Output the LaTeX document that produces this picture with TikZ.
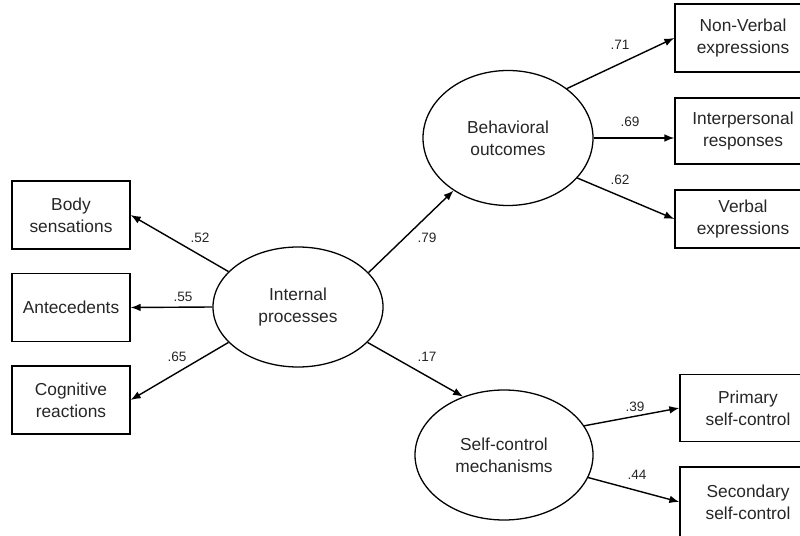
\documentclass[tikz,border=0pt]{standalone}
\usepackage{fontspec}
\setmainfont{Liberation Sans}
\usetikzlibrary{arrows.meta,shapes.geometric}
\tikzset{
	itembox/.style={draw, line width=1.1pt, minimum width=3.54cm, minimum height=2.04cm, inner sep=0pt, align=center, text=black!85, font=\fontsize{14.8}{18.8}\selectfont},
	rightbox/.style={itembox, minimum width=4.08cm},
	factor/.style={draw, ellipse, line width=1.1pt, inner sep=0pt, align=center, text=black!85, font=\fontsize{14.8}{18.8}\selectfont},
	load/.style={-{Latex[length=3mm,width=2.3mm]}, line width=1.2pt},
	coef/.style={font=\fontsize{11.6}{13}\selectfont, text=black!85, inner sep=0pt}
}

\begin{document}
\begin{tikzpicture}
		%%%%% START %%%%%
		\useasboundingbox (0, 0) rectangle (24, 16.05);
		
		\node[itembox] (body) at (2.13, 9.6) {Body\\sensations};
		\node[itembox] (ante) at (2.13, 6.825) {Antecedents};
		\node[itembox] (cog) at (2.13, 4.05) {Cognitive\\reactions};
		
		\node[factor, minimum width=5.1cm, minimum height=3.6cm] (ip) at (8.94, 6.84) {Internal\\processes};
		\node[factor, minimum width=5.1cm, minimum height=4.05cm] (bo) at (15.24, 11.91) {Behavioral\\outcomes};
		\node[factor, minimum width=5.34cm, minimum height=3.9cm] (sc) at (15.12, 2.4) {Self-control\\mechanisms};
		
		\node[rightbox] (nonverbal) at (22.29, 14.91) {Non-Verbal\\expressions};
		\node[rightbox, minimum height=1.98cm] (inter) at (22.29, 12.12) {Interpersonal\\responses};
		\node[rightbox, minimum height=1.74cm] (verbal) at (22.29, 9.48) {Verbal\\expressions};
		\node[rightbox, minimum height=2.01cm] (primary) at (22.44, 3.81) {Primary\\self-control};
		\node[rightbox, minimum height=2.1cm] (secondary) at (22.44, 0.99) {Secondary\\self-control};
		
		\draw[load] (ip.153) -- (body.east);
		\draw[load] (ip.west) -- (ante.east);
		\draw[load] (ip.207) -- (cog.east);
		\draw[load] (ip.26) -- (bo.224);
		\draw[load] (ip.333) -- (sc.125);
		
		\draw[load] (bo.40) -- (nonverbal.west);
		\draw[load] (bo.east) -- (bo.east -| inter.west);
		\draw[load] (bo.-30) -- (verbal.west);
		\draw[load] (sc.20) -- (primary.west);
		\draw[load] (sc.-15) -- (secondary.west);
		
		\node[coef] (c52) at (6.0, 8.91) {.52};
		\node[coef] (c55) at (5.49, 7.14) {.55};
		\node[coef] (c65) at (5.31, 5.34) {.65};
		\node[coef] (c79) at (12.81, 8.91) {.79};
		\node[coef] (c17) at (12.81, 5.34) {.17};
		\node[coef] (c71) at (18.6, 14.7) {.71};
		\node[coef] (c69) at (18.9, 12.39) {.69};
		\node[coef] (c62) at (18.6, 10.65) {.62};
		\node[coef] (c39) at (19.05, 3.84) {.39};
		\node[coef] (c44) at (19.11, 1.8) {.44};
		%%%%% END %%%%%
	\end{tikzpicture}
\end{document}
